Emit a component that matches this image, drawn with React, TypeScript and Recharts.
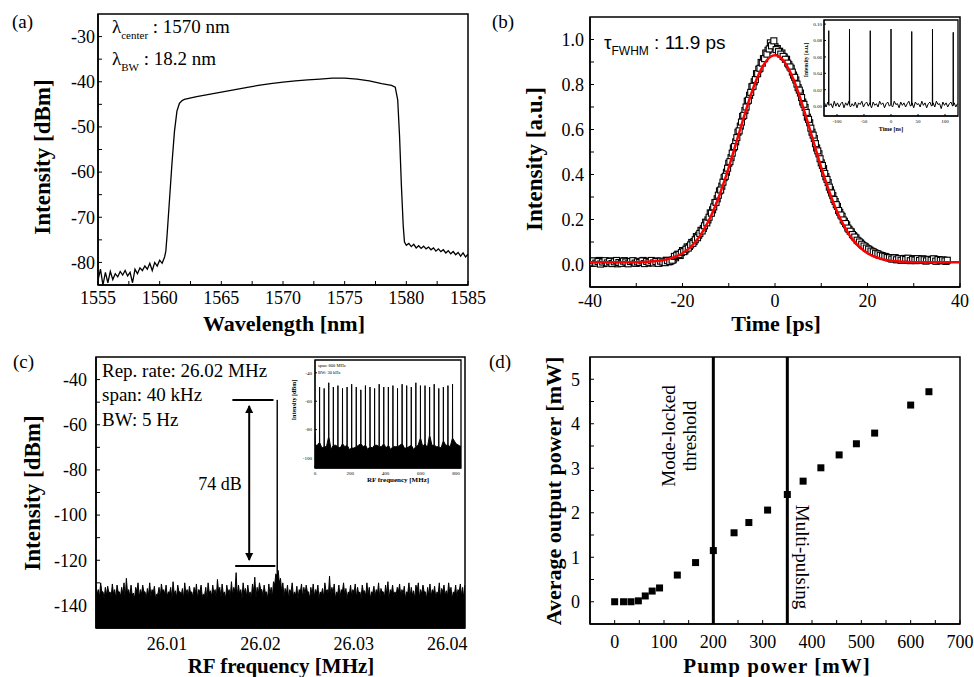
import React from "react";
import {
  ComposedChart, Line, Area, Scatter, XAxis, YAxis, ReferenceArea, ReferenceLine,
} from "recharts";

const SERIF = '"Liberation Serif", "Times New Roman", serif';
const SANS = '"Liberation Sans", Arial, sans-serif';

// ---------- (a) optical spectrum ----------
const specWavelength = [
  1555.0, 1555.2, 1555.4, 1555.6, 1555.8, 1556.0, 1556.2, 1556.4, 1556.6, 1556.8,
  1557.0, 1557.2, 1557.4, 1557.6, 1557.8, 1558.0, 1558.2, 1558.4, 1558.6, 1558.8,
  1559.0, 1559.2, 1559.4, 1559.6, 1559.8, 1560.0, 1560.2, 1560.4,
  1560.5, 1560.6, 1560.8, 1561.0, 1561.2, 1561.4, 1561.6, 1561.8, 1562.0,
  1563, 1564, 1565, 1566, 1567, 1568, 1569, 1570, 1571, 1572, 1573, 1574, 1575, 1576, 1577, 1578,
  1578.8, 1579.1,
  1579.3, 1579.45, 1579.6, 1579.75, 1579.85,
  1580.0, 1580.2, 1580.4, 1580.6, 1580.8, 1581.0, 1581.2, 1581.4, 1581.6, 1581.8,
  1582.0, 1582.2, 1582.4, 1582.6, 1582.8, 1583.0, 1583.2, 1583.4, 1583.6, 1583.8,
  1584.0, 1584.2, 1584.4, 1584.6, 1584.8, 1585.0,
];
const specPower = [
  -84.0, -81.5, -85.0, -82.2, -84.5, -82.0, -83.8, -82.5, -83.2, -82.0,
  -82.8, -81.8, -83.0, -82.2, -84.5, -81.5, -82.5, -81.2, -81.8, -80.8,
  -81.5, -80.2, -81.8, -80.0, -80.8, -79.5, -80.2, -78.8,
  -77.5, -74, -66, -58, -51, -46.5, -44.8, -44.2, -43.9,
  -43.3, -42.8, -42.3, -41.8, -41.3, -40.8, -40.4, -40.1, -39.8, -39.6, -39.4, -39.2, -39.2, -39.4, -39.8, -40.4,
  -40.8, -41.2,
  -44, -52, -63, -72, -75.5,
  -76.2, -75.8, -76.5, -76.0, -76.8, -76.3, -76.9, -76.4, -77.0, -76.6,
  -77.2, -76.8, -77.5, -77.0, -77.6, -77.2, -77.9, -77.4, -78.1, -77.6,
  -78.3, -77.8, -78.6, -77.9, -78.8, -78.2,
];
const aXMajor = [1555, 1560, 1565, 1570, 1575, 1580, 1585];
const aXMinor = [1557.5, 1562.5, 1567.5, 1572.5, 1577.5, 1582.5];
const aYMajor = [-80, -70, -60, -50, -40, -30];
const aYMinor = [-75, -65, -55, -45, -35];

// ---------- (b) autocorrelation, two interleaved scans ----------
const scan1Start = -40; // ps
const scan2Start = -39.75; // ps
const scanStep = 0.5; // ps
const scan1 = [
  0.012, 0.005, 0.015, 0.008, 0.018, 0.010, 0.004, 0.013, 0.009, 0.016,
  0.007, 0.012, 0.003, 0.014, 0.010, 0.017, 0.006, 0.011, 0.008, 0.015,
  0.005, 0.013, 0.009, 0.018, 0.011, 0.006, 0.014, 0.008, 0.012, 0.016,
  0.007, 0.013, 0.010, 0.019, 0.012, 0.016, 0.021,
  0.030, 0.046, 0.040, 0.062, 0.060, 0.078, 0.080, 0.098, 0.102, 0.124,
  0.130, 0.152, 0.160, 0.188, 0.198, 0.229, 0.243, 0.275, 0.292, 0.327,
  0.348, 0.386, 0.410, 0.450, 0.475, 0.518, 0.545, 0.588, 0.615, 0.658,
  0.684, 0.726, 0.752, 0.790, 0.812, 0.848, 0.868, 0.898, 0.915, 0.940,
  0.952, 0.985, 0.975, 0.968, 0.960, 0.948, 0.940, 0.922, 0.912, 0.888,
  0.872, 0.842, 0.820, 0.786, 0.762, 0.722, 0.698, 0.655, 0.630, 0.588,
  0.560, 0.518, 0.492, 0.452, 0.426, 0.390, 0.364, 0.332, 0.306, 0.280,
  0.258, 0.232, 0.214, 0.192, 0.176, 0.156, 0.145, 0.128, 0.118, 0.104,
  0.096, 0.085, 0.079, 0.070, 0.064, 0.058, 0.052, 0.048, 0.042, 0.040,
  0.035, 0.034, 0.030,
  0.028, 0.026, 0.030, 0.022, 0.025, 0.020, 0.027, 0.018, 0.024, 0.021,
  0.026, 0.017, 0.023, 0.019, 0.025, 0.016, 0.022, 0.020, 0.018, 0.024,
  0.015, 0.021, 0.017, 0.019, 0.014,
];
const scan2 = [
  0.008, 0.016, 0.006, 0.013, 0.002, 0.011, 0.017, 0.007, 0.014, 0.004,
  0.012, 0.018, 0.009, 0.005, 0.015, 0.011, 0.003, 0.013, 0.017, 0.006,
  0.012, 0.009, 0.016, 0.004, 0.014, 0.010, 0.018, 0.007, 0.013, 0.005,
  0.015, 0.011, 0.008, 0.017, 0.013, 0.019,
  0.036, 0.041, 0.044, 0.053, 0.057, 0.068, 0.073, 0.087, 0.094, 0.110,
  0.119, 0.138, 0.149, 0.172, 0.185, 0.210, 0.228, 0.256, 0.276, 0.308,
  0.331, 0.366, 0.392, 0.428, 0.457, 0.495, 0.524, 0.564, 0.594, 0.633,
  0.663, 0.700, 0.730, 0.765, 0.792, 0.822, 0.848, 0.872, 0.895, 0.915,
  0.935, 0.958, 0.972, 0.994,
  0.955, 0.946, 0.935, 0.925, 0.912, 0.895, 0.878, 0.855, 0.832, 0.802,
  0.775, 0.742, 0.712, 0.676, 0.645, 0.606, 0.575, 0.537, 0.505, 0.470,
  0.440, 0.405, 0.378, 0.344, 0.318, 0.289, 0.266, 0.240, 0.220, 0.198,
  0.182, 0.162, 0.148, 0.133, 0.122, 0.108, 0.100, 0.090, 0.082, 0.073,
  0.068, 0.060, 0.056, 0.050, 0.047, 0.041, 0.038, 0.036, 0.031, 0.030,
  0.024, 0.029, 0.021, 0.026, 0.019, 0.025, 0.022, 0.028, 0.017, 0.023,
  0.020, 0.026, 0.018, 0.024, 0.021, 0.016, 0.023, 0.019, 0.025, 0.015,
  0.022, 0.018, 0.020, 0.016, 0.019,
];
const fitStart = -40;
const fitStep = 1;
const acFit = [
  0.010, 0.010, 0.010, 0.010, 0.010, 0.010, 0.010, 0.010, 0.010, 0.010,
  0.010, 0.011, 0.012, 0.013, 0.015, 0.017, 0.020, 0.025, 0.031, 0.039,
  0.050, 0.065, 0.083, 0.106, 0.134, 0.169, 0.209, 0.256, 0.309, 0.368,
  0.431, 0.499, 0.568, 0.637, 0.704, 0.767, 0.822, 0.867, 0.901, 0.923,
  0.930,
  0.923, 0.901, 0.867, 0.822, 0.767, 0.704, 0.637, 0.568, 0.499, 0.431,
  0.368, 0.309, 0.256, 0.209, 0.169, 0.134, 0.106, 0.083, 0.065, 0.050,
  0.039, 0.031, 0.025, 0.020, 0.017, 0.015, 0.013, 0.012, 0.011, 0.010,
  0.010, 0.010, 0.010, 0.010, 0.010, 0.010, 0.010, 0.010, 0.010, 0.010,
];
const bXMajor = [-40, -20, 0, 20, 40];
const bXMinor = [-30, -10, 10, 30];
const bYMajor = [0, 0.2, 0.4, 0.6, 0.8, 1.0];
const bYMinor = [0.1, 0.3, 0.5, 0.7, 0.9];

// (b) inset: pulse train
const trainStart = -123;
const trainStep = 3;
const trainNoise = [
  0.004, -0.001, 0.005, 0.001, 0.003, -0.002, 0.006, 0.000, 0.004, -0.001,
  0.003, 0.005, -0.002, 0.004, 0.001, 0.006, -0.001, 0.003, 0.000, 0.005,
  -0.002, 0.004, 0.002, 0.006, -0.001, 0.003, 0.005, 0.000, 0.004, -0.002,
  0.005, 0.001, 0.003, -0.001, 0.006, 0.002, 0.004, -0.002, 0.003, 0.005,
  0.000, 0.004, -0.001, 0.006, 0.002, 0.003, -0.002, 0.005, 0.001, 0.004,
  -0.001, 0.003, 0.006, 0.000, 0.004, -0.002, 0.005, 0.002, 0.003, -0.001,
  0.006, 0.001, 0.004, -0.002, 0.003, 0.005, 0.000, 0.004, -0.001, 0.006,
  0.002, 0.003, -0.003, 0.005, 0.001, 0.004, -0.001, 0.003, 0.005, 0.000,
  0.004, -0.001, 0.003,
];
const pulseTime = [-115.2, -76.8, -38.4, 0, 38.4, 76.8, 115.2];
const pulseHeight = [0.092, 0.094, 0.092, 0.094, 0.091, 0.094, 0.090];
const trainXTicks = [-100, -50, 0, 50, 100];
const trainYTicks = [0, 0.02, 0.04, 0.06, 0.08, 0.1];

// ---------- (c) RF spectrum ----------
const rfStart = 26.0024;
const rfStep = 0.00025;
const rfNoise = [
  -131, -133, -130, -134, -132, -131.5, -134, -130.5, -133, -131,
  -134, -132, -130, -128, -133, -131, -134.5, -132, -130, -133,
  -131, -134, -132.5, -130, -133, -131.5, -135, -132, -130.5, -133,
  -131, -134, -132, -129.5, -133.5, -131, -134, -132.5, -130, -133,
  -131.5, -134, -132, -130.5, -133, -131, -135, -132, -130, -133.5,
  -131, -133, -128.5, -132, -130.5, -134, -131, -133, -129.5, -132,
  -125.5, -131, -133, -130, -132.5, -131, -134, -130.5, -127.5, -132,
  -130, -133, -131, -134, -130.5, -132, -129.5, -126, -124.5, -128,
  -130, -132.5, -131, -133, -130, -134, -131.5, -133, -130.5, -132,
  -131, -134, -132, -130.5, -133, -131, -134, -132.5, -130, -133,
  -127, -132, -130.5, -134, -131, -133, -130, -132.5, -134, -131,
  -133, -130.5, -132, -134, -131, -133.5, -130, -132, -134, -131.5,
  -133, -130, -132.5, -134, -131, -129.5, -133, -131, -134, -132,
  -130.5, -133, -131.5, -134, -130, -132, -133.5, -131, -130, -133,
  -131, -134, -132, -130.5, -133, -131.5, -134, -130, -132.5, -131,
  -133.5, -130, -132, -134, -131, -133, -130.5, -132, -131, -133,
];
// samples lying half a step after each rfNoise sample
const rfNoiseMid = [
  -135, -136.5, -134, -137, -135.5, -134.5, -136, -135, -137, -134,
  -136, -135, -137, -134.5, -136, -135.5, -137, -134, -136.5, -135,
  -134, -137, -135.5, -136, -134.5, -137, -135, -136.5, -134, -135.5,
  -136, -134.5, -137, -135, -136.5, -134, -135.5, -137, -135, -136,
  -134.5, -136.5, -135, -137, -134, -136, -135.5, -137, -134.5, -136,
  -135, -137, -134, -136.5, -135, -137, -134.5, -136, -135.5, -134,
  -136, -135, -137, -134.5, -136, -135.5, -137, -134, -136.5, -135,
  -133, -136, -134.5, -137, -135, -136.5, -131, -127, -130, -134,
  -136, -135, -137, -134.5, -136, -135.5, -137, -134, -136.5, -135,
  -134, -137, -135.5, -136, -134.5, -137, -135, -136.5, -134, -135.5,
  -136, -134.5, -137, -135, -136.5, -134, -135.5, -137, -135, -136,
  -134.5, -136.5, -135, -137, -134, -136, -135.5, -137, -134.5, -136,
  -135, -137, -134, -136.5, -135, -137, -134.5, -136, -135.5, -134,
  -136, -135, -137, -134.5, -136, -135.5, -137, -134, -136.5, -135,
  -134, -137, -135.5, -136, -134.5, -137, -135, -136.5, -134, -135.5,
  -136, -134.5, -137, -135, -136.5, -134, -135.5, -137, -135, -136,
];
const rfPeakFreq = [26.02178, 26.0218, 26.02182];
const rfPeakPower = [-126, -49, -125];
const cXMajor = [26.01, 26.02, 26.03, 26.04];
const cXMinor = [26.005, 26.015, 26.025, 26.035];
const cYMajor = [-140, -120, -100, -80, -60, -40];
const cYMinor = [-130, -110, -90, -70, -50];

// (c) inset: 800 MHz span
const harmonic = [
  26, 52, 78, 104, 130, 156, 182, 208, 234, 260, 286, 312, 338, 364, 390,
  416, 442, 468, 494, 520, 546, 572, 598, 624, 650, 676, 702, 728, 754, 780,
];
const harmonicPeak = [
  -50, -51, -47, -50, -49, -51, -50, -48, -50, -52, -49, -50, -51, -48, -50,
  -50, -49, -51, -48, -49, -50, -47, -49, -49, -50, -48, -51, -50, -49, -48,
];
const harmonicFoot = [
  -89, -92, -85, -91, -92, -90, -91, -93, -92, -90, -91, -92, -91, -92, -90,
  -91, -92, -92, -90, -93, -91, -92, -86, -90, -84, -91, -92, -88, -91, -86,
];
const harmonicFloor = [
  -91, -93, -92, -94, -91, -93, -92, -94, -93, -91, -92, -94, -93, -91, -92, -93,
  -94, -92, -91, -93, -92, -94, -91, -92, -93, -91, -92, -93, -91, -92, -90,
];
const wideXTicks = [0, 200, 400, 600, 800];
const wideYTicks = [-100, -80, -60, -40];

// ---------- (d) output power ----------
const pumpPower = [0, 18, 33, 48, 62, 76, 91, 127, 164, 200, 242, 272, 310, 350, 382, 418, 455, 490, 527, 600, 637];
const outPower = [0, 0, 0, 0.02, 0.13, 0.24, 0.31, 0.6, 0.88, 1.15, 1.55, 1.78, 2.06, 2.41, 2.71, 3.01, 3.3, 3.55, 3.79, 4.42, 4.72];
const dXMajor = [0, 100, 200, 300, 400, 500, 600, 700];
const dXMinor = [50, 150, 250, 350, 450, 550, 650];
const dYMajor = [0, 1, 2, 3, 4, 5];
const dYMinor = [0.5, 1.5, 2.5, 3.5, 4.5];

// ---------- tables ----------
const specData = specWavelength.map((x, i) => ({ x, y: specPower[i] }));
const scan1Data = scan1.map((y, i) => ({ x: scan1Start + i * scanStep, y }));
const scan2Data = scan2.map((y, i) => ({ x: scan2Start + i * scanStep, y }));
const fitData = acFit.map((y, i) => ({ x: fitStart + i * fitStep, y }));

const trainData = [
  ...trainNoise.map((y, i) => ({ x: trainStart + i * trainStep, y })),
  ...pulseTime.flatMap((t, i) => [
    { x: t - 0.3, y: 0.002 },
    { x: t, y: pulseHeight[i] },
    { x: t + 0.3, y: 0.001 },
  ]),
].sort((a, b) => a.x - b.x);

const rfData = [
  ...rfNoise.map((y, i) => ({ x: rfStart + i * rfStep, y })),
  ...rfNoiseMid.map((y, i) => ({ x: rfStart + (i + 0.5) * rfStep, y })),
  ...rfPeakFreq.map((x, i) => ({ x, y: rfPeakPower[i] })),
].sort((a, b) => a.x - b.x);

const wideData = [{ x: 0, y: -82 }, { x: 2, y: -91 }];
harmonic.forEach((f, i) => {
  const mid = i === 0 ? 13 : (harmonic[i - 1] + f) / 2;
  wideData.push({ x: mid, y: harmonicFloor[i] });
  wideData.push({ x: f - 0.7, y: harmonicFoot[i] });
  wideData.push({ x: f, y: harmonicPeak[i] });
  wideData.push({ x: f + 0.7, y: harmonicFoot[i] });
});
wideData.push({ x: 800, y: harmonicFloor[30] });
wideData.push({ x: 828, y: -92 });

const powerData = pumpPower.map((x, i) => ({ x, y: outPower[i] }));

// ---------- helpers ----------
const tickFont = { fill: "#000", fontSize: 18, fontFamily: SERIF };

function axis(major: number[], minor: number[], fmt: (v: number) => string = String) {
  return {
    type: "number" as const,
    ticks: [...major, ...minor].sort((a, b) => a - b),
    tickFormatter: (v: number) => (major.includes(v) ? fmt(v) : ""),
    interval: 0 as const,
    tickSize: -4,
    axisLine: { stroke: "#000", strokeWidth: 1.5 },
    tickLine: { stroke: "#000" },
    tick: tickFont,
    allowDataOverflow: true,
  };
}

function insetAxis(ticks: number[], fmt: (v: number) => string = String) {
  return {
    type: "number" as const,
    ticks,
    tickFormatter: fmt,
    interval: 0 as const,
    tickSize: -2,
    axisLine: { stroke: "#000", strokeWidth: 1 },
    tickLine: { stroke: "#000" },
    tick: { fill: "#000", fontSize: 5, fontFamily: SERIF },
    allowDataOverflow: true,
  };
}

// invisible axes, used to stack an overlay chart exactly on top of another
const bare = { type: "number" as const, tick: false, axisLine: false, tickLine: false, allowDataOverflow: true };

function T({ x, y, children, size = 19, bold = false, rotate = 0, left = false, font = SERIF, style = {} }: any) {
  return (
    <div
      style={{
        position: "absolute", left: x, top: y,
        transform: `translate(${left ? "0" : "-50%"}, -50%) rotate(${rotate}deg)`,
        fontSize: size, fontWeight: bold ? 700 : 400, fontFamily: font,
        whiteSpace: "nowrap", lineHeight: 1.1, textAlign: "center", ...style,
      }}
    >
      {children}
    </div>
  );
}

const Sub = ({ children, size = 11 }: any) => (
  <span style={{ fontSize: size, position: "relative", top: 6 }}>{children}</span>
);

const OpenSquare = (p: any) => (
  <rect x={p.cx - 3} y={p.cy - 3} width={6} height={6} fill="#fff" stroke="#000" strokeWidth={1.1} />
);
const FilledSquare = (p: any) => (
  <rect x={p.cx - 3.5} y={p.cy - 3.5} width={7} height={7} fill="#000" />
);

const DoubleArrow = (p: any) => {
  const x = p.x1;
  const top = Math.min(p.y1, p.y2);
  const bot = Math.max(p.y1, p.y2);
  return (
    <g>
      <line x1={x} y1={top + 6} x2={x} y2={bot - 6} stroke="#000" strokeWidth={2} />
      <polygon points={`${x},${top + 5} ${x - 4},${top + 13} ${x + 4},${top + 13}`} fill="#000" />
      <polygon points={`${x},${bot - 5} ${x - 4},${bot - 13} ${x + 4},${bot - 13}`} fill="#000" />
    </g>
  );
};

const bMargin = { top: 2, right: 25, bottom: 0, left: 0 };

export default function App() {
  return (
    <div style={{ position: "absolute", left: 0, top: 0, width: 974, height: 677, background: "#fff", fontFamily: SERIF, color: "#000", overflow: "hidden" }}>
      {/* (a) */}
      <div style={{ position: "absolute", left: 53, top: 12 }}>
        <ComposedChart width={440} height={303} margin={{ top: 2, right: 25, bottom: 0, left: 0 }} data={specData}>
          <XAxis dataKey="x" domain={[1555, 1585]} height={30} {...axis(aXMajor, aXMinor)} tickMargin={10} />
          <YAxis dataKey="y" domain={[-85, -25]} width={45} {...axis(aYMajor, aYMinor)} tickMargin={7} />
          <ReferenceArea x1={1555} x2={1585} y1={-85} y2={-25} fill="none" stroke="#000" strokeWidth={1.5} />
          <Line type="linear" dataKey="y" stroke="#000" strokeWidth={1.3} dot={false} activeDot={false} isAnimationActive={false} />
        </ComposedChart>
      </div>

      {/* (b) measured points */}
      <div style={{ position: "absolute", left: 540, top: 15 }}>
        <ComposedChart width={445} height={302} margin={bMargin}>
          <XAxis dataKey="x" domain={[-40, 40]} height={30} {...axis(bXMajor, bXMinor)} tickMargin={11} />
          <YAxis dataKey="y" domain={[-0.1, 1.1]} width={50} {...axis(bYMajor, bYMinor, (v) => v.toFixed(1))} tickMargin={10} />
          <ReferenceArea x1={-40} x2={40} y1={-0.1} y2={1.1} fill="none" stroke="#000" strokeWidth={1.5} />
          <Scatter data={scan1Data} dataKey="y" shape={OpenSquare} isAnimationActive={false} />
          <Scatter data={scan2Data} dataKey="y" shape={OpenSquare} isAnimationActive={false} />
        </ComposedChart>
      </div>
      {/* (b) red fit, drawn above the points */}
      <div style={{ position: "absolute", left: 540, top: 15 }}>
        <ComposedChart width={445} height={302} margin={bMargin}>
          <XAxis dataKey="x" domain={[-40, 40]} height={30} {...bare} />
          <YAxis dataKey="y" domain={[-0.1, 1.1]} width={50} {...bare} />
          <Line data={fitData} type="monotone" dataKey="y" stroke="#ff0000" strokeWidth={2.5} dot={false} activeDot={false} isAnimationActive={false} />
        </ComposedChart>
      </div>

      {/* (b) inset */}
      <div style={{ position: "absolute", left: 808, top: 19 }}>
        <ComposedChart width={152} height={106} margin={{ top: 1, right: 2, bottom: 0, left: 0 }} data={trainData}>
          <XAxis dataKey="x" domain={[-124, 124]} height={9} {...insetAxis(trainXTicks)} tickMargin={5} />
          <YAxis dataKey="y" domain={[-0.012, 0.105]} width={16} {...insetAxis(trainYTicks, (v) => v.toFixed(2))} tickMargin={4} />
          <ReferenceArea x1={-124} x2={124} y1={-0.012} y2={0.105} fill="#fff" fillOpacity={1} stroke="#000" strokeWidth={1.3} />
          <Line type="linear" dataKey="y" stroke="#000" strokeWidth={1} dot={false} activeDot={false} isAnimationActive={false} />
        </ComposedChart>
      </div>

      {/* (c) */}
      <div style={{ position: "absolute", left: 41, top: 355 }}>
        <ComposedChart width={449} height={303} margin={{ top: 2, right: 25, bottom: 0, left: 0 }} data={rfData}>
          <XAxis dataKey="x" domain={[26.0024, 26.0419]} height={30} {...axis(cXMajor, cXMinor, (v) => v.toFixed(2))} tickMargin={13} />
          <YAxis dataKey="y" domain={[-150, -30]} width={55} {...axis(cYMajor, cYMinor)} tickMargin={13} />
          <Area type="linear" dataKey="y" baseValue={-150} stroke="#000" strokeWidth={1} fill="#000" fillOpacity={1} dot={false} activeDot={false} isAnimationActive={false} />
          <ReferenceArea x1={26.0024} x2={26.0419} y1={-150} y2={-30} fill="none" stroke="#000" strokeWidth={1.5} />
          <ReferenceLine segment={[{ x: 26.017, y: -49 }, { x: 26.0214, y: -49 }]} stroke="#000" strokeWidth={2} />
          <ReferenceLine segment={[{ x: 26.0173, y: -122.5 }, { x: 26.0216, y: -122.5 }]} stroke="#000" strokeWidth={2} />
          <ReferenceLine segment={[{ x: 26.0188, y: -49 }, { x: 26.0188, y: -122.5 }]} shape={DoubleArrow} />
        </ComposedChart>
      </div>

      {/* (c) inset */}
      <div style={{ position: "absolute", left: 301, top: 359 }}>
        <ComposedChart width={162} height={118} margin={{ top: 1, right: 2, bottom: 0, left: 0 }} data={wideData}>
          <XAxis dataKey="x" domain={[0, 828]} height={9} {...insetAxis(wideXTicks)} tickMargin={5} />
          <YAxis dataKey="y" domain={[-107, -31]} width={14} {...insetAxis(wideYTicks)} tickMargin={5} />
          <ReferenceArea x1={0} x2={828} y1={-107} y2={-31} fill="#fff" fillOpacity={1} stroke="none" />
          <Area type="linear" dataKey="y" baseValue={-107} stroke="#000" strokeWidth={1} fill="#000" fillOpacity={1} dot={false} activeDot={false} isAnimationActive={false} />
          <ReferenceArea x1={0} x2={828} y1={-107} y2={-31} fill="none" stroke="#000" strokeWidth={1.3} />
        </ComposedChart>
      </div>

      {/* (d) */}
      <div style={{ position: "absolute", left: 545, top: 355 }}>
        <ComposedChart width={440} height={299} margin={{ top: 2, right: 25, bottom: 0, left: 0 }}>
          <XAxis dataKey="x" domain={[-50, 700]} height={30} {...axis(dXMajor, dXMinor)} tickMargin={15} />
          <YAxis dataKey="y" domain={[-0.5, 5.5]} width={45} {...axis(dYMajor, dYMinor)} tickMargin={14} />
          <ReferenceArea x1={-50} x2={700} y1={-0.5} y2={5.5} fill="none" stroke="#000" strokeWidth={1.5} />
          <ReferenceLine x={200} stroke="#000" strokeWidth={3} />
          <ReferenceLine x={350} stroke="#000" strokeWidth={3} />
          <Scatter data={powerData} dataKey="y" shape={FilledSquare} isAnimationActive={false} />
        </ComposedChart>
      </div>

      {/* panel letters */}
      <T x={12} y={22} left>(a)</T>
      <T x={492} y={22} left>(b)</T>
      <T x={13} y={362} left>(c)</T>
      <T x={489} y={362} left>(d)</T>

      {/* axis titles */}
      <T x={284} y={324} size={22} bold>Wavelength [nm]</T>
      <T x={43} y={157} size={23} bold rotate={-90}>Intensity [dBm]</T>
      <T x={776} y={324} size={22} bold>Time [ps]</T>
      <T x={535} y={159} size={23} bold rotate={-90}>Intensity [a.u.]</T>
      <T x={281} y={666} size={21} bold style={{ lineHeight: 1 }}>RF frequency [MHz]</T>
      <T x={33} y={493} size={23} bold rotate={-90}>Intensity [dBm]</T>
      <T x={777} y={666} size={21} bold style={{ letterSpacing: 1, lineHeight: 1 }}>Pump power [mW]</T>
      <T x={554} y={491} size={22} bold rotate={-90}>Average output power [mW]</T>

      {/* annotations */}
      <T x={112} y={27} left>λ<Sub>center</Sub> : 1570 nm</T>
      <T x={112} y={59} left>λ<Sub>BW</Sub> : 18.2 nm</T>
      <T x={604} y={43} left font={SANS}>τ<Sub size={12}>FWHM</Sub> : 11.9 ps</T>
      <T x={102} y={371} left>Rep. rate: 26.02 MHz</T>
      <T x={102} y={395} left>span: 40 kHz</T>
      <T x={102} y={420} left>BW: 5 Hz</T>
      <T x={220} y={485} size={18}>74 dB</T>
      <T x={680} y={436} rotate={-90}>Mode-locked<br />threshold</T>
      <T x={802} y={557} rotate={90}>Multi-pulsing</T>

      {/* inset labels */}
      <T x={806} y={60} size={5.5} bold rotate={-90}>Intensity [a.u.]</T>
      <T x={891} y={129} size={6} bold>Time [ns]</T>
      <T x={294} y={400} size={6} bold rotate={-90}>Intensity [dBm]</T>
      <T x={398} y={481} size={7} bold>RF frequency [MHz]</T>
      <T x={318} y={366} size={4.5} left>span: 800 MHz</T>
      <T x={318} y={373} size={4.5} left>BW: 30 kHz</T>
    </div>
  );
}
